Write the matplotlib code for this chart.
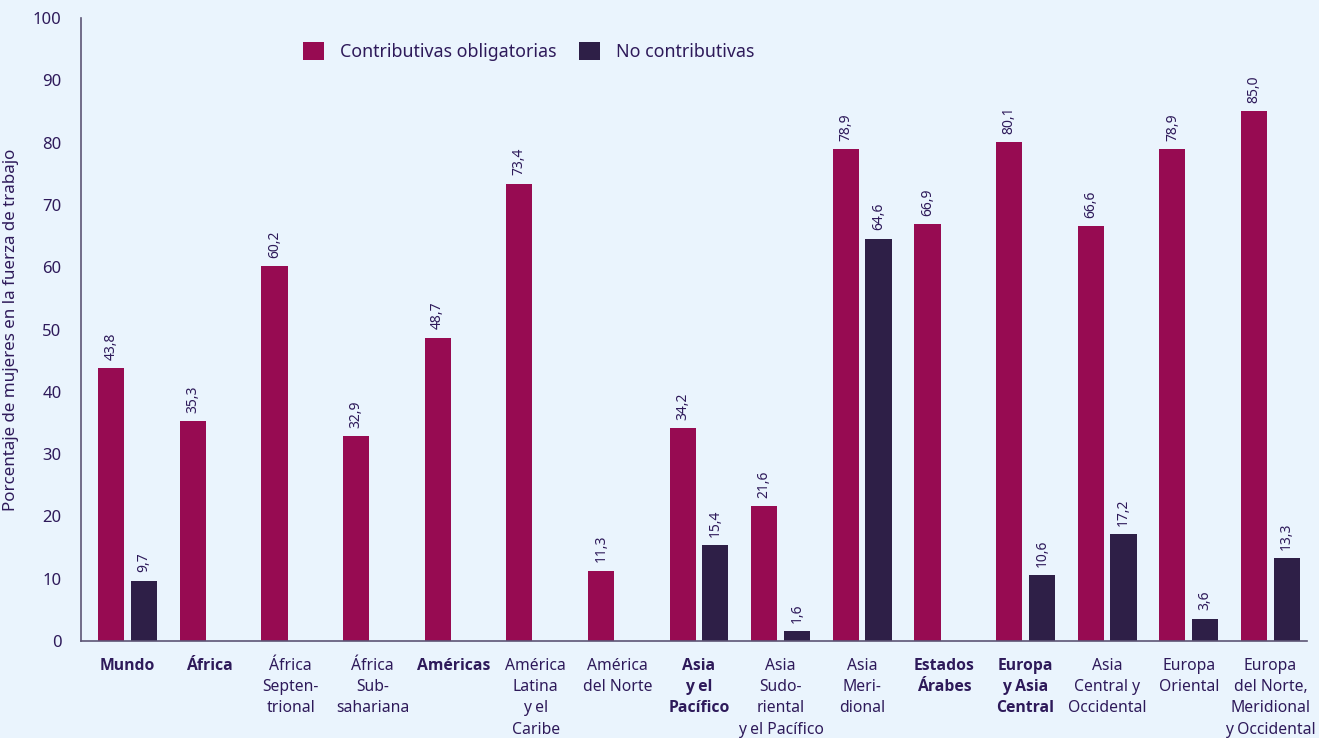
import matplotlib
matplotlib.use("Agg")
import matplotlib.pyplot as plt
from matplotlib import font_manager as fm
import numpy as np

categories = ["Mundo", "África", "África\nSepten-\ntrional", "África\nSub-\nsahariana", "Américas",
              "América\nLatina\ny el\nCaribe", "América\ndel Norte", "Asia\ny el\nPacífico",
              "Asia\nSudo-\nriental\ny el Pacífico", "Asia\nMeri-\ndional", "Estados\nÁrabes",
              "Europa\ny Asia\nCentral", "Asia\nCentral y\nOccidental", "Europa\nOriental",
              "Europa\ndel Norte,\nMeridional\ny Occidental"]
bold = [True, True, False, False, True, False, False, True, False, False, True, True, False, False, False]
contrib = [43.8, 35.3, 60.2, 32.9, 48.7, 73.4, 11.3, 34.2, 21.6, 78.9, 66.9, 80.1, 66.6, 78.9, 85.0]
nocontrib = [9.7, np.nan, np.nan, np.nan, np.nan, np.nan, np.nan, 15.4, 1.6, 64.6, np.nan, 10.6, 17.2, 3.6, 13.3]
series_names = ["Contributivas obligatorias", "No contributivas"]

# pick a family that actually has a bold face
bold_family = "DejaVu Sans"
for fam in ["Noto Sans", "Open Sans", "Lato", "Roboto"]:
    try:
        p = fm.findfont(fm.FontProperties(family=fam, weight="bold"), fallback_to_default=False)
        if "bold" in p.lower():
            bold_family = fam
            break
    except Exception:
        pass

plt.rcParams['font.family'] = ['Noto Sans', 'DejaVu Sans']
bg = "#EAF4FD"
c1 = "#970B52"
c2 = "#2E1F47"
tc = "#2E1A5A"

fig = plt.figure(figsize=(13.19, 7.38), dpi=100, facecolor=bg)
ax = fig.add_axes([0.0614, 0.1314, 0.9296, 0.8442], facecolor=bg)

x = np.arange(len(categories))
w = 0.32
off = 0.2
ax.bar(x - off, contrib, w, color=c1, label=series_names[0])
ax.bar(x + off, nocontrib, w, color=c2, label=series_names[1])

def fmt(v):
    return f"{v:.1f}".replace(".", ",")

for xi, v in zip(x - off, contrib):
    ax.annotate(fmt(v), (xi, v), xytext=(0, 6), textcoords="offset points",
                rotation=90, ha="center", va="bottom", fontsize=10, color=tc)
for xi, v in zip(x + off, nocontrib):
    if not np.isnan(v):
        ax.annotate(fmt(v), (xi, v), xytext=(0, 6), textcoords="offset points",
                    rotation=90, ha="center", va="bottom", fontsize=10, color=tc)

ax.set_xlim(-0.57, 14.45)
ax.set_ylim(0, 100)
ax.set_yticks(np.arange(0, 101, 10))
ax.tick_params(axis="y", length=0, labelsize=12, labelcolor=tc, pad=14)
ax.set_xticks(x)
ax.set_xticklabels(categories, fontsize=11.3, color=tc, linespacing=1.45)
for lbl, b in zip(ax.get_xticklabels(), bold):
    if b:
        lbl.set_family([bold_family, "DejaVu Sans"])
        lbl.set_fontweight("bold")
ax.tick_params(axis="x", length=0, pad=12)
ax.set_ylabel("Porcentaje de mujeres en la fuerza de trabajo", fontsize=12.2, color=tc, labelpad=10)

for s in ["top", "right"]:
    ax.spines[s].set_visible(False)
for s in ["left", "bottom"]:
    ax.spines[s].set_color("#5D5575")
    ax.spines[s].set_linewidth(1.2)

leg = ax.legend(loc="upper left", bbox_to_anchor=(0.168, 0.987), ncol=2, frameon=False,
                fontsize=12.8, handlelength=1.2, handleheight=1.2, columnspacing=1.25,
                handletextpad=0.9, labelcolor=tc)

fig.savefig("out.png", dpi=100, facecolor=bg)
